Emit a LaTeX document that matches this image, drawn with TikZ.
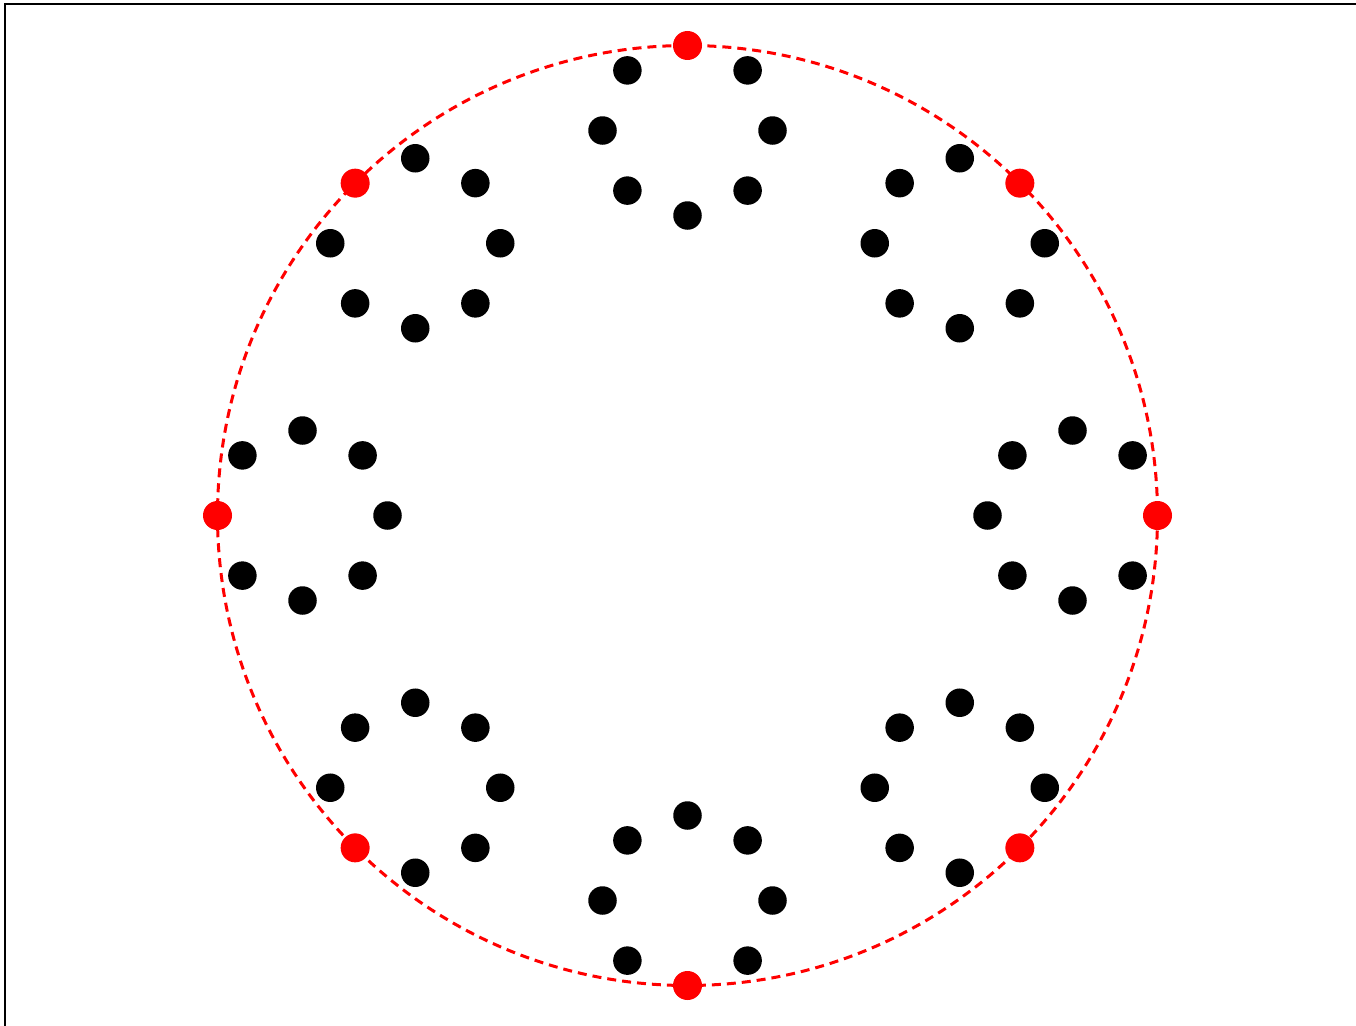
\documentclass[tikz,border=0pt]{standalone}
\usetikzlibrary{calc}
\begin{document}
\begin{tikzpicture}[x=1pt,y=-1pt,
  blackdot/.style={circle,fill=black,inner sep=0pt,minimum size=28.5pt},
  reddot/.style={circle,fill=red,inner sep=0pt,minimum size=29pt},
  ring/.style={draw=red,line width=3pt,dash pattern=on 9pt off 6pt}]
\useasboundingbox (0,0) rectangle (1356,1025);
\draw[line width=2.6pt] (5,1040) -- (5,4) -- (1370,4);
\coordinate (O) at (687.5,515.5);
\draw[ring] (O) circle[radius=470];
\foreach \i in {0,...,7}{
  \pgfmathsetmacro{\a}{45*\i}
  \coordinate (cc\i) at ($(O)+(\a:385 and -385)$);
  \foreach \j in {1,...,7}{
    \node[blackdot] (d\i-\j) at ($(cc\i)+({\a+45*\j}:85 and -85)$) {};
  }
  \node[reddot] (r\i) at ($(cc\i)+(\a:85 and -85)$) {};
}
\end{tikzpicture}
\end{document}
